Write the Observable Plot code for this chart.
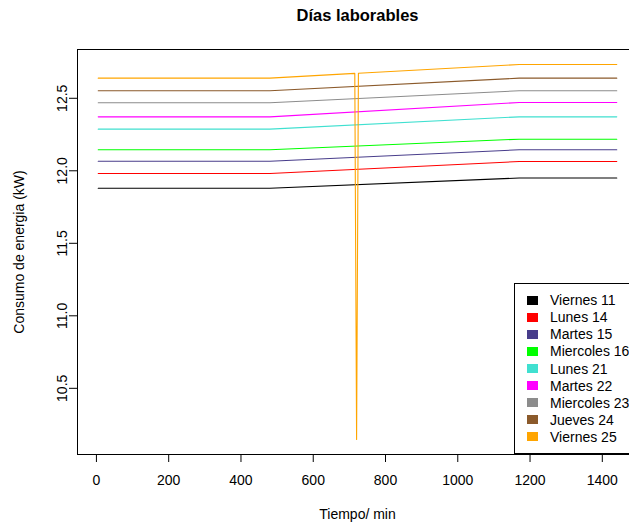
<!DOCTYPE html>
<html lang="es">
<head>
<meta charset="utf-8">
<title>Días laborables</title>
<script src="https://cdn.jsdelivr.net/npm/d3@7"></script>
<script src="https://cdn.jsdelivr.net/npm/@observablehq/plot@0.6"></script>
<style>
  html, body { margin: 0; padding: 0; background: #fff; }
  #chart { position: relative; width: 629px; height: 524px; overflow: hidden;
           font-family: "Liberation Sans", Arial, Helvetica, sans-serif; }
  #chart svg { display: block; }
  #legend { position: absolute; left: 514px; top: 283px; width: 140px; height: 171px;
            border: 1px solid #000; box-sizing: border-box; background: #fff; }
  .entry { position: absolute; left: 12px; height: 18px; line-height: 18px;
           font-size: 14px; color: #000; white-space: nowrap; }
  .entry i { position: absolute; left: 0; top: 4.5px; width: 11px; height: 9px; }
  .entry span { position: absolute; left: 23px; top: 0; }
</style>
</head>
<body>
<div id="chart"></div>
<script>
// Weekday series, in legend order, with their line colours
const series = ["Viernes 11", "Lunes 14", "Martes 15", "Miercoles 16", "Lunes 21",
                "Martes 22", "Miercoles 23", "Jueves 24", "Viernes 25"];
const colors = ["#000000", "#FF0000", "#483D8B", "#00FF00", "#40E0D0",
                "#FF00FF", "#8C8C8C", "#8B5A2B", "#FFA500"];

// Sample times (minutes of the day) where each curve changes slope
const minutes = [5, 480, 1170, 1440];
// Friday 25 has a brief drop around midday
const minutesViernes25 = [5, 480, 715, 720, 725, 1170, 1440];

// Energy consumption (kW) at those times
const viernes11   = [11.880, 11.880, 11.950, 11.950];
const lunes14     = [11.981, 11.981, 12.064, 12.064];
const martes15    = [12.066, 12.066, 12.145, 12.145];
const miercoles16 = [12.145, 12.145, 12.218, 12.218];
const lunes21     = [12.287, 12.287, 12.372, 12.372];
const martes22    = [12.372, 12.372, 12.471, 12.471];
const miercoles23 = [12.469, 12.469, 12.552, 12.552];
const jueves24    = [12.552, 12.552, 12.639, 12.639];
const viernes25   = [12.639, 12.639, 12.672, 10.147, 12.673, 12.733, 12.733];

// Axis ticks
const xTicks = [0, 200, 400, 600, 800, 1000, 1200, 1400];
const yTicks = [10.5, 11.0, 11.5, 12.0, 12.5];

const values = [viernes11, lunes14, martes15, miercoles16, lunes21,
                martes22, miercoles23, jueves24, viernes25];
const rows = values.flatMap((vals, i) => {
  const t = series[i] === "Viernes 25" ? minutesViernes25 : minutes;
  return vals.map((v, j) => ({dia: series[i], t: t[j], kw: v}));
});

const font = '"Liberation Sans", Arial, Helvetica, sans-serif';

const chart = Plot.plot({
  width: 629,
  height: 524,
  marginLeft: 77,
  marginRight: -8,
  marginTop: 49,
  marginBottom: 70,
  style: {fontFamily: font, fontSize: "14px", color: "#000", background: "#fff", overflow: "hidden"},
  x: {domain: [-52.4, 1497.4]},
  y: {domain: [10.0436, 12.8364]},
  color: {domain: series, range: colors},
  marks: [
    Plot.line(rows, {x: "t", y: "kw", z: "dia", stroke: "dia", strokeWidth: 1.1}),
    Plot.frame({stroke: "#000", strokeWidth: 1}),
    Plot.axisX({ticks: xTicks, tickSize: 8, tickPadding: 13, tickFormat: d => String(d), label: null}),
    Plot.axisY({ticks: yTicks, tickSize: 8, fill: "none", label: null}),
    Plot.text(yTicks, {y: d => d, text: d => d.toFixed(1), frameAnchor: "left",
                       dx: -15, rotate: -90, textAnchor: "middle", lineAnchor: "middle"}),
    Plot.text(["Consumo de energia (kW)"], {text: d => d, frameAnchor: "left",
                       dx: -58, rotate: -90, textAnchor: "middle", lineAnchor: "middle"}),
    Plot.text(["Tiempo/ min"], {text: d => d, frameAnchor: "bottom", dy: 60,
                       textAnchor: "middle", lineAnchor: "middle"}),
    Plot.text(["Días laborables"], {text: d => d, frameAnchor: "top", dy: -34,
                       textAnchor: "middle", lineAnchor: "middle",
                       fontWeight: "bold", fontSize: 16.5})
  ]
});

const root = document.getElementById("chart");
root.appendChild(chart);

// Legend box in the lower-right corner of the plotting region
const legend = document.createElement("div");
legend.id = "legend";
series.forEach((name, i) => {
  const entry = document.createElement("div");
  entry.className = "entry";
  entry.style.top = (7.1 + i * 17.1) + "px";
  const sw = document.createElement("i");
  sw.style.background = colors[i];
  const label = document.createElement("span");
  label.textContent = name;
  entry.append(sw, label);
  legend.appendChild(entry);
});
root.appendChild(legend);
</script>
</body>
</html>
